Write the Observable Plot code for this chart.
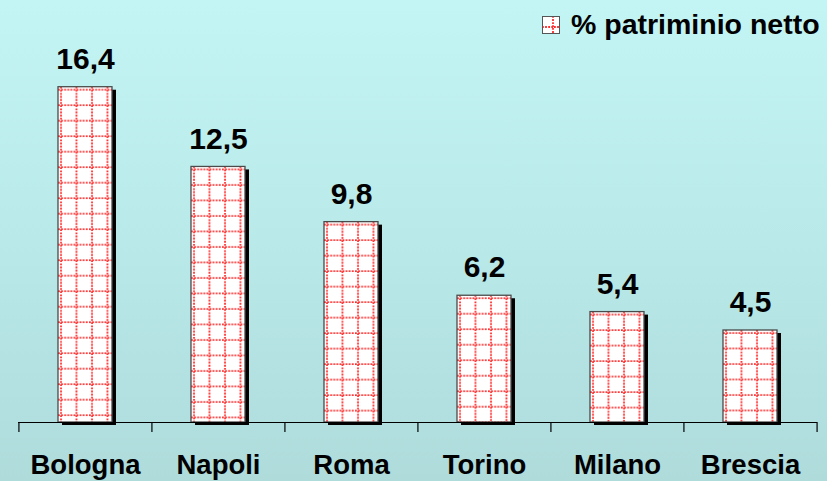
<!DOCTYPE html>
<html>
<head>
<meta charset="utf-8">
<script src="https://cdn.jsdelivr.net/npm/d3@7"></script>
<script src="https://cdn.jsdelivr.net/npm/@observablehq/plot@0.6"></script>
<style>
  html, body { margin: 0; padding: 0; }
  #wrap {
    position: relative; width: 827px; height: 481px; overflow: hidden;
    background: linear-gradient(to bottom, #c4f5f5 0%, #b9e9e9 50%, #afdbdb 100%);
    font-family: "Liberation Sans", Arial, sans-serif;
  }
  #legend {
    position: absolute; left: 542px; top: 8px; display: flex; align-items: center;
    font-weight: bold; font-size: 28.5px; color: #000; white-space: nowrap;
  }
  #legend svg { margin-right: 10px; margin-top: 2px; }
</style>
</head>
<body>
<div id="wrap">
  <div id="legend"></div>
</div>
<script>
const cities = ["Bologna", "Napoli", "Roma", "Torino", "Milano", "Brescia"];
const values = [16.4, 12.5, 9.8, 6.2, 5.4, 4.5];
const valueLabels = ["16,4", "12,5", "9,8", "6,2", "5,4", "4,5"];
const seriesName = "% patriminio netto";

const data = cities.map((c, i) => ({city: c, value: values[i], label: valueLabels[i]}));

const W = 827, H = 481, mL = 18, mR = 10, mT = 54, mB = 59;
const padIn = 0.595, padOut = padIn / 2;
const step = (W - mL - mR) / (cities.length - padIn + 2 * padOut);
const yMax = 18;
const pxPerUnit = (H - mT - mB) / yMax;
const tickLen = 10 / pxPerUnit;

const plot = Plot.plot({
  width: W, height: H,
  marginLeft: mL, marginRight: mR, marginTop: mT, marginBottom: mB,
  style: {background: "transparent", fontFamily: "'Liberation Sans', Arial, sans-serif", overflow: "visible", color: "#000"},
  x: {domain: cities, paddingInner: padIn, paddingOuter: padOut, axis: null},
  y: {domain: [0, yMax], axis: null},
  marks: [
    Plot.barY(data, {x: "city", y: "value", fill: "#000", dx: 4, dy: 3}),
    Plot.barY(data, {x: "city", y: "value", fill: "white", stroke: "#4a4a4a", strokeWidth: 1.3}),
    Plot.ruleY([0], {stroke: "#000", strokeWidth: 1.2}),
    Plot.ruleX(cities, {x: d => d, y1: 0, y2: -tickLen, dx: -step / 2, stroke: "#000", strokeWidth: 1.2}),
    Plot.ruleX(cities.slice(-1), {x: d => d, y1: 0, y2: -tickLen, dx: step / 2, stroke: "#000", strokeWidth: 1.2}),
    Plot.text(data, {x: "city", y: "value", text: "label", dy: -28, fontSize: 30, fontWeight: "bold", fill: "#000"}),
    Plot.text(data, {x: "city", y: 0, text: "city", dy: 43, fontSize: 27.5, fontWeight: "bold", fill: "#000"})
  ]
});

document.getElementById("wrap").prepend(plot);

// grid pattern fill for bars
const ns = "http://www.w3.org/2000/svg";
function makePattern(svg, id, x, y, s, off) {
  let defs = svg.querySelector("defs");
  if (!defs) { defs = document.createElementNS(ns, "defs"); svg.prepend(defs); }
  const p = document.createElementNS(ns, "pattern");
  p.setAttribute("id", id);
  p.setAttribute("patternUnits", "userSpaceOnUse");
  p.setAttribute("x", x); p.setAttribute("y", y);
  p.setAttribute("width", s); p.setAttribute("height", s);
  p.innerHTML =
    `<rect width="${s}" height="${s}" fill="white"/>` +
    `<line x1="${off}" y1="0" x2="${off}" y2="${s}" stroke="#ff2a2a" stroke-width="1.8" stroke-dasharray="1.8 1.3"/>` +
    `<line x1="0" y1="${off}" x2="${s}" y2="${off}" stroke="#ff2a2a" stroke-width="1.8" stroke-dasharray="1.8 1.3"/>`;
  defs.appendChild(p);
}
const barGroups = plot.querySelectorAll('g[aria-label="bar"]');
const mainBars = barGroups[barGroups.length - 1];
mainBars.querySelectorAll("rect").forEach((r, i) => {
  const id = "gridpat" + i;
  makePattern(plot, id, +r.getAttribute("x"), +r.getAttribute("y"), 15.5, 3);
  r.setAttribute("fill", `url(#${id})`);
});

// legend
const lg = document.getElementById("legend");
const icon = document.createElementNS(ns, "svg");
icon.setAttribute("width", 19); icon.setAttribute("height", 19);
makePattern(icon, "legpat", 0, 0, 12, 11);
const ir = document.createElementNS(ns, "rect");
ir.setAttribute("x", 0.5); ir.setAttribute("y", 0.5); ir.setAttribute("width", 17); ir.setAttribute("height", 17);
ir.setAttribute("fill", "url(#legpat)"); ir.setAttribute("stroke", "#555");
icon.appendChild(ir);
lg.appendChild(icon);
const span = document.createElement("span");
span.textContent = seriesName;
lg.appendChild(span);
</script>
</body>
</html>
